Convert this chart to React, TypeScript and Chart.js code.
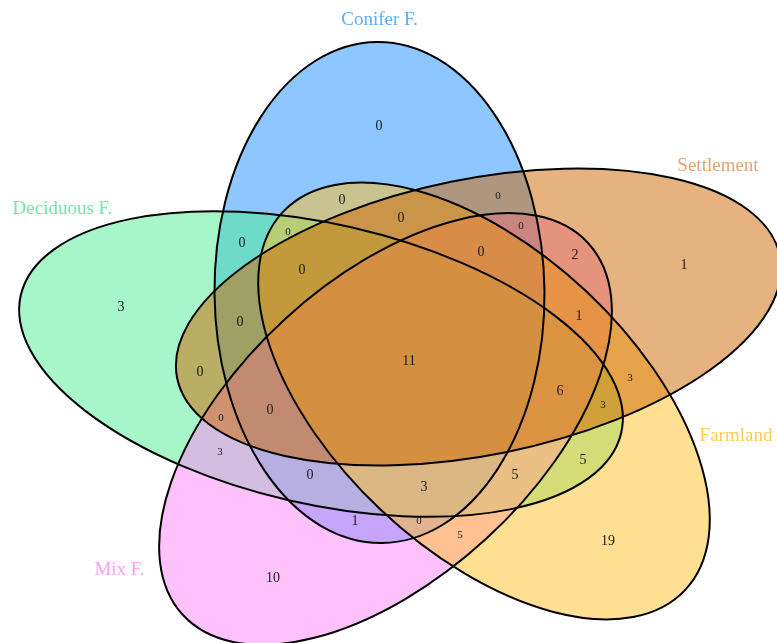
import { useEffect, useRef } from "react";
import { Chart, registerables } from "chart.js";

Chart.register(...registerables);

// ---- sets (in drawing order) ----
const setNames = ["Conifer F.", "Deciduous F.", "Mix F.", "Farmland", "Settlement"];
const setColors = ["#1E90FF", "#4EEE94", "#FF83FA", "#FFC125", "#CD6600"];
const setLabelColors = ["#5EACFF", "#6DEBA3", "#FF9EFB", "#FFCB52", "#E5A46C"];

// ---- ellipse geometry (data units of the x / y scales) ----
const ellipseCenterX = [379.5, 321, 385.5, 484, 478.5];
const ellipseCenterY = [292.5, 364, 429, 401, 317];
const ellipseRadiusX = [165, 308, 275, 276, 307.5];
const ellipseRadiusY = [250.5, 140, 149, 150, 138];
const ellipseAngleDeg = [-0.6, 12.9, -42.5, 43.25, -11.5];

// ---- category label anchors ----
const catLabelX = [379.5, 62.5, 119.5, 736, 718];
const catLabelY = [25, 214, 575, 441, 171];

// ---- region counts and their anchors ----
const regionCounts = [
  0, 1, 3, 19, 10,
  0, 0, 0, 0, 0, 0, 2, 0, 0, 0, 1, 11, 3, 0, 6, 3, 0, 0, 3, 5, 0, 5, 3, 1, 0, 5,
];
const regionX = [
  379, 684, 121, 608, 273,
  242, 342, 288, 401, 498, 521, 575, 481, 302, 240, 579, 409, 630, 200, 560, 603, 270, 221, 220, 583, 310, 515, 424, 355, 419, 460,
];
const regionY = [
  126, 265, 307, 541, 578,
  243, 200, 232, 218, 196, 226, 255, 252, 270, 322, 316, 361, 378, 372, 391, 405, 410, 418, 452, 460, 475, 475, 487, 521, 521, 535,
];
const regionSmall = [
  0, 0, 0, 0, 0,
  0, 0, 1, 0, 1, 1, 0, 0, 0, 0, 0, 0, 1, 0, 0, 1, 0, 1, 1, 0, 0, 0, 0, 0, 1, 1,
];

const FONT = "'Liberation Serif', 'Times New Roman', serif";

const vennPlugin = {
  id: "vennEllipses",
  beforeDatasetsDraw(chart: any) {
    const { ctx } = chart;
    const xs = chart.scales.x;
    const ys = chart.scales.y;
    ctx.save();
    ctx.fillStyle = "#ffffff";
    ctx.fillRect(0, 0, chart.width, chart.height);
    const geo = setNames.map((_, i) => {
      const cx = xs.getPixelForValue(ellipseCenterX[i]);
      const cy = ys.getPixelForValue(ellipseCenterY[i]);
      const rx = Math.abs(xs.getPixelForValue(ellipseCenterX[i] + ellipseRadiusX[i]) - cx);
      const ry = Math.abs(ys.getPixelForValue(ellipseCenterY[i] + ellipseRadiusY[i]) - cy);
      return { cx, cy, rx, ry, rot: (ellipseAngleDeg[i] * Math.PI) / 180 };
    });
    geo.forEach((g, i) => {
      ctx.beginPath();
      ctx.ellipse(g.cx, g.cy, g.rx, g.ry, g.rot, 0, Math.PI * 2);
      ctx.globalAlpha = 0.5;
      ctx.fillStyle = setColors[i];
      ctx.fill();
    });
    ctx.globalAlpha = 1;
    ctx.lineWidth = 2;
    ctx.strokeStyle = "#000000";
    geo.forEach((g) => {
      ctx.beginPath();
      ctx.ellipse(g.cx, g.cy, g.rx, g.ry, g.rot, 0, Math.PI * 2);
      ctx.stroke();
    });
    // category labels
    ctx.textAlign = "center";
    ctx.textBaseline = "alphabetic";
    ctx.font = `19px ${FONT}`;
    setNames.forEach((name, i) => {
      ctx.fillStyle = setLabelColors[i];
      ctx.fillText(name, xs.getPixelForValue(catLabelX[i]), ys.getPixelForValue(catLabelY[i]));
    });
    ctx.restore();
  },
  afterDatasetsDraw(chart: any) {
    const { ctx } = chart;
    const meta = chart.getDatasetMeta(0);
    ctx.save();
    ctx.textAlign = "center";
    ctx.textBaseline = "middle";
    ctx.fillStyle = "#1a1a1a";
    meta.data.forEach((pt: any, i: number) => {
      ctx.font = `${regionSmall[i] ? 11 : 14}px ${FONT}`;
      ctx.fillText(String(regionCounts[i]), pt.x, pt.y);
    });
    ctx.restore();
  },
};

export default function App() {
  const ref = useRef<HTMLCanvasElement | null>(null);
  useEffect(() => {
    document.body.style.margin = "0";
    const canvas = ref.current;
    if (!canvas) return;
    const chart = new Chart(canvas, {
      type: "scatter",
      data: {
        datasets: [
          {
            data: regionX.map((x, i) => ({ x, y: regionY[i] })),
            pointRadius: 0,
            pointHoverRadius: 0,
            showLine: false,
          },
        ],
      },
      options: {
        responsive: false,
        animation: false,
        events: [],
        layout: { padding: 0 },
        plugins: { legend: { display: false }, tooltip: { enabled: false } },
        scales: {
          x: { type: "linear", min: 0, max: 777, display: false },
          y: { type: "linear", min: 0, max: 643, reverse: true, display: false },
        },
      },
      plugins: [vennPlugin],
    });
    return () => chart.destroy();
  }, []);
  return <canvas ref={ref} width={777} height={643} style={{ display: "block" }} />;
}
